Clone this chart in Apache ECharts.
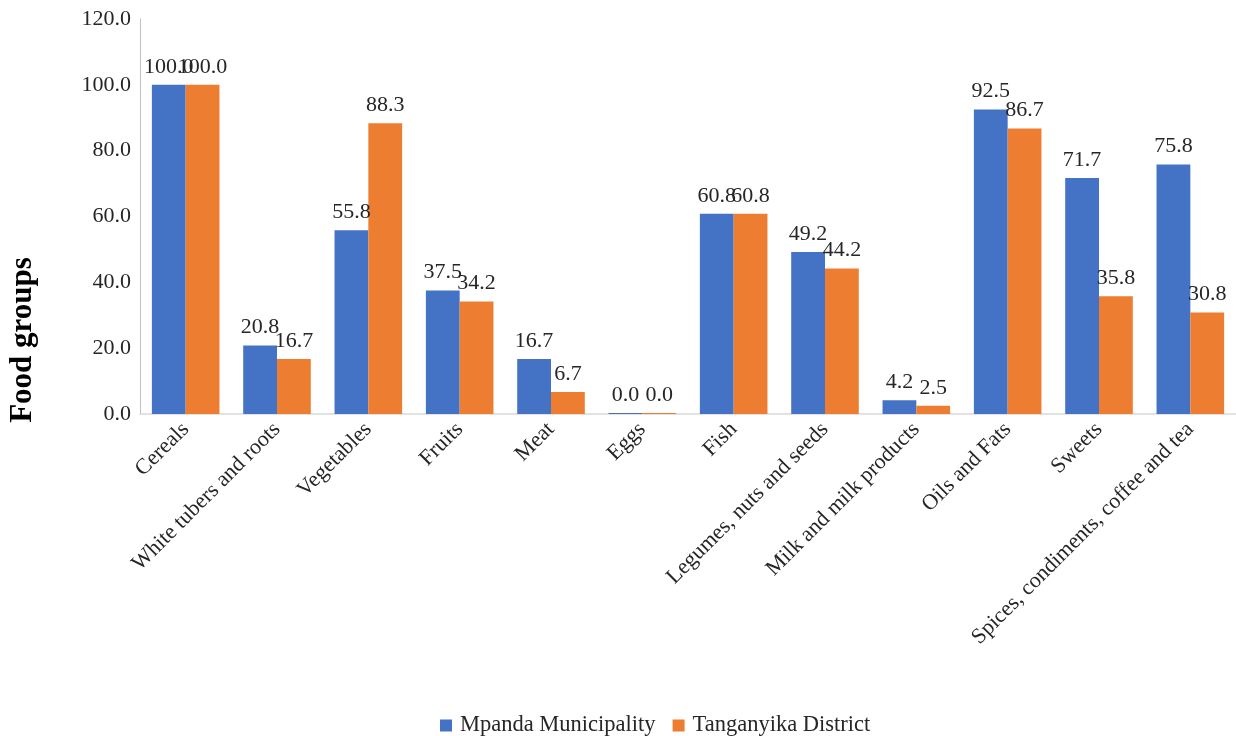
<!DOCTYPE html>
<html><head><meta charset="utf-8">
<script src="https://cdn.jsdelivr.net/npm/echarts@6/dist/echarts.min.js"></script>
<style>html,body{margin:0;padding:0;background:#fff}#c{width:1236px;height:736px}</style>
</head><body><div id="c"></div>
<script>
const categories = ["Cereals","White tubers and roots","Vegetables","Fruits","Meat","Eggs","Fish","Legumes, nuts and seeds","Milk and milk products","Oils and Fats","Sweets","Spices, condiments, coffee and tea"];
const mpanda = [100.0,20.8,55.8,37.5,16.7,0.0,60.8,49.2,4.2,92.5,71.7,75.8];
const tanganyika = [100.0,16.7,88.3,34.2,6.7,0.0,60.8,44.2,2.5,86.7,35.8,30.8];
const seriesNames = ["Mpanda Municipality","Tanganyika District"];
const FONT = "'Liberation Serif', 'Times New Roman', serif";
const chart = echarts.init(document.getElementById('c'));
const label = {show:true, position:'top', distance:7, fontFamily:FONT, fontSize:22, color:'#262626', formatter:p=>p.value.toFixed(1)};
chart.setOption({
  animation:false,
  grid:{left:140, right:0, top:19, bottom:322, containLabel:false},
  legend:{top:714, left:440, padding:0, itemWidth:12, itemHeight:12, itemGap:17, icon:'rect',
    textStyle:{fontFamily:FONT, fontSize:22.5, color:'#262626', padding:[0,0,0,3]}},
  xAxis:{type:'category', data:categories,
    axisLine:{lineStyle:{color:'#d9d9d9', width:1.5}}, axisTick:{show:false},
    axisLabel:{rotate:45, interval:0, fontFamily:FONT, fontSize:22, color:'#262626', margin:12}},
  yAxis:{type:'value', min:0, max:120, interval:20,
    axisLine:{show:true, lineStyle:{color:'#bfbfbf'}}, axisTick:{show:false}, splitLine:{show:false},
    axisLabel:{fontFamily:FONT, fontSize:22, color:'#262626', margin:9, formatter:v=>v.toFixed(1)}},
  graphic:[{type:'text', rotation:Math.PI/2, x:23, y:340,
    style:{text:'Food groups', fontFamily:FONT, fontSize:31, fontWeight:'bold', fill:'#000', textAlign:'center', textVerticalAlign:'middle'}}],
  series:[
    {name:seriesNames[0], type:'bar', data:mpanda, barGap:'0%', barCategoryGap:'26%', barMinHeight:1, itemStyle:{color:'#4472C4'}, label:label},
    {name:seriesNames[1], type:'bar', data:tanganyika, barMinHeight:1, itemStyle:{color:'#ED7D31'}, label:label}
  ]
});
</script></body></html>
